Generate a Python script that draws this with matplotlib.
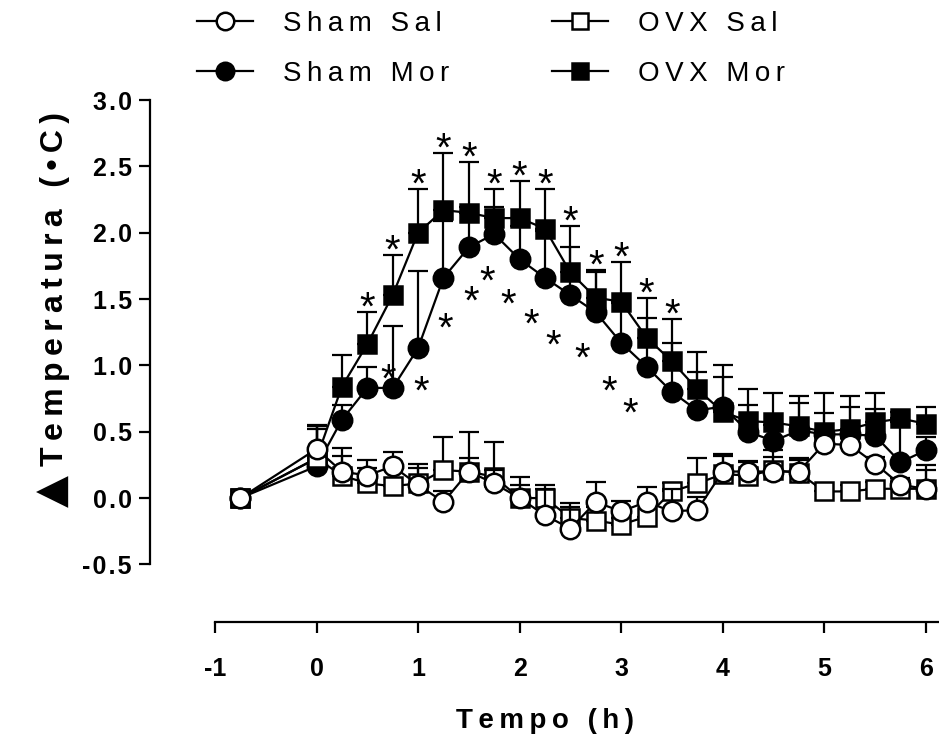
import numpy as np
import matplotlib
matplotlib.use("Agg")
import matplotlib.pyplot as plt

plt.rcParams['font.family'] = ['Liberation Sans', 'DejaVu Sans']

# time (h): baseline at -0.75 then every 15 min
tempo = [-0.75, 0.0, 0.25, 0.5, 0.75, 1.0, 1.25, 1.5, 1.75, 2.0, 2.25, 2.5, 2.75,
         3.0, 3.25, 3.5, 3.75, 4.0, 4.25, 4.5, 4.75, 5.0, 5.25, 5.5, 5.75, 6.0]

sham_sal = [0, 0.37, 0.20, 0.17, 0.24, 0.10, -0.03, 0.20, 0.11, 0.00, -0.13, -0.23, -0.03,
            -0.10, -0.03, -0.10, -0.09, 0.20, 0.20, 0.20, 0.20, 0.41, 0.40, 0.26, 0.10, 0.07]
sham_sal_err = [0, 0.17, 0.18, 0.12, 0.11, 0.16, 0.08, 0.10, 0.10, 0.16, 0.20, 0.16, 0.15,
                0.08, 0.11, 0.17, 0.10, 0.12, 0.08, 0.16, 0.10, 0.05, 0.05, 0.05, 0.05, 0.18]

ovx_sal = [0, 0.30, 0.17, 0.11, 0.09, 0.11, 0.21, 0.20, 0.16, 0.00, 0.00, -0.15, -0.17,
           -0.20, -0.14, 0.05, 0.11, 0.18, 0.17, 0.21, 0.19, 0.05, 0.05, 0.07, 0.07, 0.07]
ovx_sal_err = [0, 0.22, 0.15, 0.12, 0.12, 0.12, 0.25, 0.30, 0.26, 0.10, 0.10, 0.11, 0.10,
               0.05, 0.10, 0.06, 0.19, 0.15, 0.10, 0.10, 0.10, 0.05, 0.05, 0.05, 0.05, 0.14]

sham_mor = [0, 0.24, 0.59, 0.83, 0.83, 1.13, 1.66, 1.89, 1.99, 1.80, 1.66, 1.53, 1.40,
            1.17, 0.99, 0.80, 0.66, 0.69, 0.50, 0.43, 0.51, 0.48, 0.48, 0.47, 0.27, 0.36]
sham_mor_err = [0, 0.30, 0.11, 0.16, 0.47, 0.58, 0.43, 0.30, 0.20, 0.25, 0.35, 0.36, 0.30,
                0.30, 0.37, 0.37, 0.29, 0.22, 0.20, 0.12, 0.21, 0.16, 0.21, 0.20, 0.30, 0.10]

ovx_mor = [0, 0.30, 0.84, 1.16, 1.53, 2.00, 2.17, 2.15, 2.11, 2.11, 2.03, 1.70, 1.51,
           1.48, 1.21, 1.03, 0.82, 0.65, 0.58, 0.57, 0.54, 0.50, 0.52, 0.57, 0.60, 0.56]
ovx_mor_err = [0, 0.25, 0.24, 0.24, 0.30, 0.33, 0.43, 0.38, 0.22, 0.28, 0.30, 0.35, 0.21,
               0.30, 0.30, 0.32, 0.28, 0.35, 0.24, 0.22, 0.23, 0.29, 0.25, 0.22, 0.05, 0.13]

# significance marks: OVX Mor (above error bars) and Sham Mor (below the curve)
sig_ovx_t = [0.5, 0.75, 1.0, 1.25, 1.5, 1.75, 2.0, 2.25, 2.5, 2.75, 3.0, 3.25, 3.5]
sig_sham_t = [0.71, 1.03, 1.27, 1.52, 1.68, 1.89, 2.11, 2.33, 2.62, 2.88, 3.09]
sig_sham_y = [0.94, 0.85, 1.33, 1.53, 1.68, 1.51, 1.36, 1.20, 1.10, 0.85, 0.69]

xticks = [-1, 0, 1, 2, 3, 4, 5, 6]
yticks = [-0.5, 0.0, 0.5, 1.0, 1.5, 2.0, 2.5, 3.0]


def spaced(s, sep='\u2009'):
    return sep.join(s)


def main():
    fig = plt.figure(figsize=(9.39, 7.48), dpi=100)
    ax = fig.add_axes([150 / 939, 1 - 622 / 748, 789 / 939, 522 / 748])

    series = [
        (sham_mor, sham_mor_err, 'o', 'black', 'Sham Mor', 3),
        (ovx_mor, ovx_mor_err, 's', 'black', 'OVX Mor', 4),
        (ovx_sal, ovx_sal_err, 's', 'white', 'OVX Sal', 5),
        (sham_sal, sham_sal_err, 'o', 'white', 'Sham Sal', 6),
    ]
    handles = {}
    for y, err, mk, fc, name, z in series:
        y = np.array(y)
        err = np.array(err)
        ax.errorbar(tempo, y, yerr=[np.zeros_like(err), err], fmt='none', ecolor='black',
                     elinewidth=1.6, capsize=7, capthick=1.6, zorder=z, clip_on=False)
        line, = ax.plot(tempo, y, color='black', lw=1.6, marker=mk, markersize=14 if mk == 'o' else 13,
                        markerfacecolor=fc, markeredgecolor='black', markeredgewidth=1.8,
                        zorder=z + 0.5, clip_on=False)
        handles[name] = line

    top = np.array(ovx_mor) + np.array(ovx_mor_err)
    tt = np.array(tempo)
    for t in sig_ovx_t:
        i = int(np.argmin(np.abs(tt - t)))
        ax.annotate('*', (t, top[i]), xytext=(0, -5.5), textcoords='offset points',
                    ha='center', va='baseline', fontsize=29, zorder=10)
    for t, v in zip(sig_sham_t, sig_sham_y):
        ax.annotate('*', (t, v), xytext=(0, -13.5), textcoords='offset points',
                    ha='center', va='baseline', fontsize=29, zorder=10)

    ax.set_xlim(-1.64, 6.13)
    ax.set_ylim(-0.934, 3.0)
    for side in ['top', 'right']:
        ax.spines[side].set_visible(False)
    ax.spines['left'].set_bounds(-0.5, 3.0)
    ax.spines['bottom'].set_bounds(-1, 6.13)
    for side in ['left', 'bottom']:
        ax.spines[side].set_linewidth(1.6)

    ax.set_xticks(xticks)
    ax.set_xticklabels([str(x) for x in xticks])
    ax.set_yticks(yticks)
    ax.set_yticklabels([spaced('%.1f' % v, '\u200a') for v in yticks])
    ax.tick_params(axis='both', direction='out', width=1.6, length=8, labelsize=18)
    ax.tick_params(axis='x', pad=17)
    ax.tick_params(axis='y', pad=5)
    for lab in ax.get_xticklabels() + ax.get_yticklabels():
        lab.set_fontweight('bold')

    ax.set_xlabel(spaced('Tempo (h)'), fontsize=20, fontweight='bold', labelpad=20)
    fig.text(55 / 939, 1 - 289 / 748, spaced('Temperatura (\u2022C)'), rotation=90,
             ha='center', va='center', fontsize=23, fontweight='bold')
    fig.text(53 / 939, 1 - 491 / 748, '\u25b2', rotation=90, ha='center', va='center',
             fontsize=30, family=['DejaVu Sans'])

    order = ['Sham Sal', 'Sham Mor', 'OVX Sal', 'OVX Mor']
    fig.legend([handles[k] for k in order], [spaced(k) for k in order], ncol=2,
               loc='upper left', bbox_to_anchor=(197 / 939, 1 - 11 / 748), frameon=False,
               borderaxespad=0, borderpad=0,
               fontsize=20, handlelength=2.0, handletextpad=1.1, labelspacing=0.85,
               columnspacing=3.7, markerscale=0.9)

    fig.savefig('out.png', dpi=100)


if __name__ == '__main__':
    main()
